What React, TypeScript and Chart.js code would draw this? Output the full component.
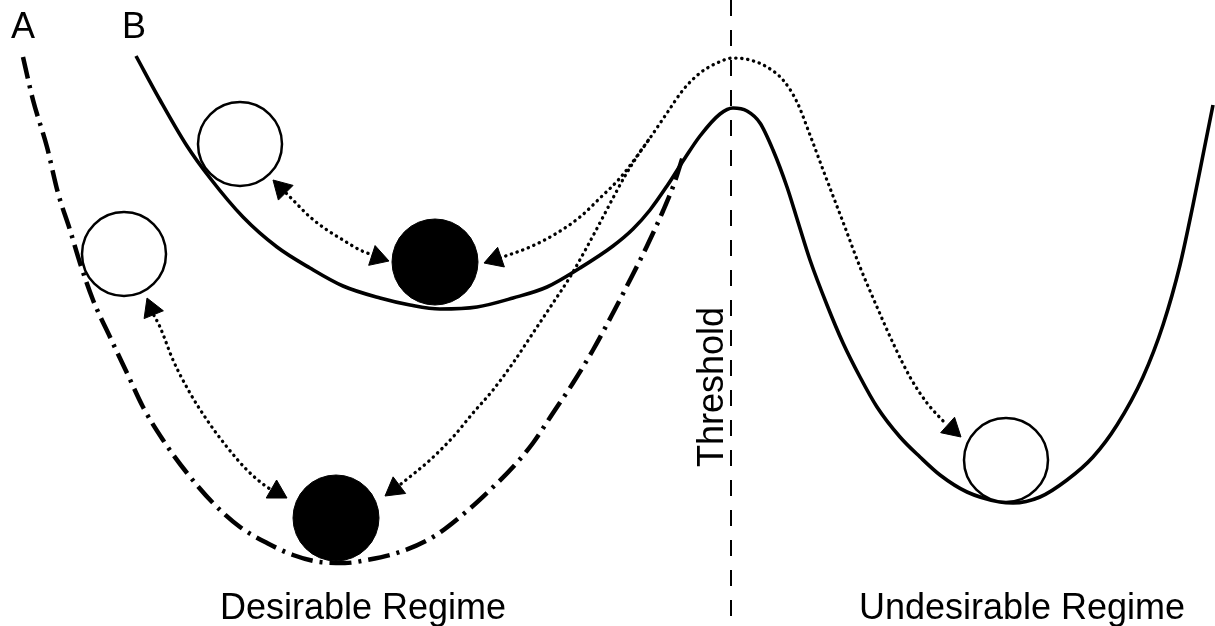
import React, { useEffect, useRef } from "react";
import { Chart, registerables } from "chart.js";

Chart.register(...registerables);

type Pt = [number, number];

// Diagram space: x 0..1215 (state), y 0..626 (potential, top = 0)
const curveA: Pt[] = [
  [23, 57], [33, 100], [47, 147], [58, 193], [70, 230], [80, 263], [93, 300], [110, 337],
  [127, 373], [143, 407], [163, 440], [187, 473], [213, 503], [240, 527], [267, 543],
  [293, 555], [320, 562], [345, 563], [367, 560], [400, 552], [433, 537], [467, 511],
  [490, 490], [513, 467], [533, 443], [553, 413], [573, 383], [593, 350], [613, 313],
  [630, 280], [647, 246], [663, 211], [674, 184], [683, 156],
];

const curveB: Pt[] = [
  [136, 56], [160, 100], [187, 146], [210, 178], [243, 217], [277, 247], [310, 268],
  [343, 286], [380, 298], [410, 305], [440, 309], [477, 307], [513, 298], [547, 287],
  [580, 268], [613, 246], [633, 229], [650, 210], [667, 186], [685, 158], [700, 136],
  [720, 114], [733, 108], [747, 111], [760, 123], [773, 150], [787, 187], [798, 222],
  [810, 260], [827, 305], [843, 343], [860, 377], [877, 407], [900, 437], [920, 457],
  [940, 475], [967, 492], [1000, 502], [1013, 503], [1040, 497], [1067, 480],
  [1093, 457], [1117, 425], [1143, 377], [1163, 325], [1180, 265], [1193, 205],
  [1204, 150], [1213, 105],
];

const pathFromUpperBall: Pt[] = [
  [500, 258], [530, 247], [557, 233], [580, 217], [600, 198], [620, 178], [640, 152],
  [650, 138], [667, 113], [683, 90], [700, 73], [717, 63], [733, 58], [750, 60],
  [767, 67], [783, 80], [797, 102], [810, 135], [825, 175], [843, 222], [860, 267],
  [877, 307], [893, 343], [910, 377], [927, 403], [945, 423],
];

const pathFromLowerBall: Pt[] = [
  [401, 484], [430, 460], [453, 437], [473, 413], [493, 390], [513, 363], [533, 333],
  [553, 303], [570, 277], [587, 247], [603, 217], [613, 198], [625, 176], [640, 152],
  [650, 138],
];

const swingUpper: Pt[] = [
  [282, 189], [293, 200], [310, 217], [327, 230], [343, 240], [360, 250], [375, 256],
];

const swingLower: Pt[] = [
  [151, 310], [160, 327], [173, 360], [190, 393], [207, 420], [227, 447], [247, 470],
  [267, 487], [276, 492],
];

const thresholdLine: Pt[] = [[731, 0], [731, 626]];

const openBalls: Pt[] = [[240, 144], [124, 254], [1006, 460]];
const filledBalls: Pt[] = [[435, 262], [336, 518]];

// arrow tip x, y, heading in degrees (0 = up, clockwise)
const arrowTipX = [273, 389, 484, 147, 287, 385, 961];
const arrowTipY = [180, 261, 263, 298, 498, 496, 437];
const arrowHeading = [-45, 108, 251, -22, 120, 233, 132];

const labelTexts = ["A", "B", "Desirable Regime", "Undesirable Regime", "Threshold"];
const labelX = [23, 134, 363, 1022, 723];
const labelY = [38, 38, 619, 619, 387];
const labelRotation = [0, 0, 0, 0, -90];

const toXY = (pts: Pt[]) => pts.map(([x, y]) => ({ x, y }));

const ARROW_R = 12;

const textPlugin = {
  id: "diagramText",
  afterDatasetsDraw(chart: any) {
    const { ctx, scales } = chart;
    ctx.save();
    ctx.fillStyle = "#000";
    labelTexts.forEach((t, i) => {
      const px = scales.x.getPixelForValue(labelX[i]);
      const py = scales.y.getPixelForValue(labelY[i]);
      ctx.save();
      ctx.translate(px, py);
      ctx.rotate((labelRotation[i] * Math.PI) / 180);
      ctx.font = '36px "Liberation Sans", Arial, sans-serif';
      ctx.textAlign = "center";
      ctx.textBaseline = "alphabetic";
      ctx.fillText(t, 0, 0);
      ctx.restore();
    });
    ctx.restore();
  },
};

export default function App() {
  const ref = useRef<HTMLCanvasElement | null>(null);

  useEffect(() => {
    if (!ref.current) return;
    const arrowCenters = arrowTipX.map((x, i) => {
      const a = (arrowHeading[i] * Math.PI) / 180;
      return { x: x - ARROW_R * Math.sin(a), y: arrowTipY[i] + ARROW_R * Math.cos(a) };
    });

    const lineDs = (pts: Pt[], width: number, dash: number[], cap: string, order: number) => ({
      data: toXY(pts),
      showLine: true,
      borderColor: "#000",
      borderWidth: width,
      borderDash: dash,
      borderCapStyle: cap,
      cubicInterpolationMode: "monotone",
      pointRadius: 0,
      pointHoverRadius: 0,
      fill: false,
      order,
    });

    const chart = new Chart(ref.current, {
      type: "scatter",
      data: {
        datasets: [
          {
            data: toXY(openBalls),
            pointRadius: 42,
            pointHoverRadius: 42,
            pointBackgroundColor: "#fff",
            pointBorderColor: "#000",
            pointBorderWidth: 2.5,
            order: 0,
          },
          {
            data: toXY(filledBalls),
            pointRadius: 43,
            pointHoverRadius: 43,
            pointBackgroundColor: "#000",
            pointBorderColor: "#000",
            pointBorderWidth: 1,
            order: 0,
          },
          {
            data: arrowCenters,
            pointStyle: "triangle",
            pointRadius: ARROW_R,
            pointHoverRadius: ARROW_R,
            pointRotation: arrowHeading,
            pointBackgroundColor: "#000",
            pointBorderColor: "#000",
            pointBorderWidth: 1,
            order: 1,
          },
          lineDs(curveB, 3.6, [], "butt", 2),
          lineDs(curveA, 4.5, [22, 7, 3, 7], "butt", 2),
          lineDs(pathFromUpperBall, 3.3, [0.3, 5.7], "round", 3),
          lineDs(pathFromLowerBall, 3.3, [0.3, 5.7], "round", 3),
          lineDs(swingUpper, 3.3, [0.3, 5.7], "round", 3),
          lineDs(swingLower, 3.3, [0.3, 5.7], "round", 3),
          { ...lineDs(thresholdLine, 2, [16, 14], "butt", 4), cubicInterpolationMode: "default", tension: 0 },
        ] as any,
      },
      options: {
        animation: false,
        responsive: false,
        maintainAspectRatio: false,
        layout: { padding: 0, autoPadding: false },
        events: [],
        plugins: { legend: { display: false }, tooltip: { enabled: false } },
        scales: {
          x: { type: "linear", min: 0, max: 1215, display: false },
          y: { type: "linear", min: 0, max: 626, reverse: true, display: false },
        },
      } as any,
      plugins: [textPlugin],
    });
    return () => chart.destroy();
  }, []);

  return (
    <div style={{ position: "fixed", left: 0, top: 0, width: 1215, height: 626, background: "#fff" }}>
      <canvas ref={ref} width={1215} height={626} style={{ display: "block" }} />
    </div>
  );
}
